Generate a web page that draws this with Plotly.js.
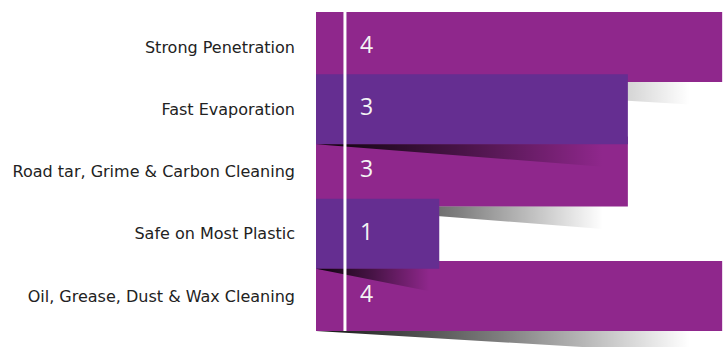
<!DOCTYPE html>
<html><head><meta charset="utf-8">
<script src="https://cdn.plot.ly/plotly-3.0.1.min.js"></script>
<style>html,body{margin:0;padding:0;background:#fff}#chart{width:725px;height:347px}</style>
</head><body><div id="chart"></div>
<script>
const categories = ['Strong Penetration','Fast Evaporation','Road tar, Grime & Carbon Cleaning','Safe on Most Plastic','Oil, Grease, Dust & Wax Cleaning'];
const values = [4, 3, 3, 1, 4];
const valueLabels = ['4', '3', '3', '1', '4'];

const BASE = -0.307, BAR_W = 1.125, SHADOW_H = 0.36, SHADOW_LEN = 0.92;
const XMAX = 4.03, YRANGE = [4.819, -0.755];
const C_MAG = '#8f278c', C_PUR = '#652e91';
const pos = categories.map((c, i) => i);

function barTrace(idx, color, xa, ya) {
  return {
    type: 'bar', orientation: 'h',
    y: idx.map(i => pos[i]), x: idx.map(i => values[i] - BASE), base: BASE,
    width: BAR_W, marker: {color: color, line: {width: 0}},
    xaxis: xa, yaxis: ya, hoverinfo: 'skip'
  };
}
function shadowTrace(i, xa, ya) {
  const yb = pos[i] + BAR_W / 2;
  const xe = BASE + SHADOW_LEN * (values[i] - BASE);
  return {
    type: 'scatter', mode: 'lines', fill: 'toself',
    x: [BASE, xe, xe, BASE], y: [yb, yb, yb + SHADOW_H, yb],
    line: {width: 0, color: 'rgba(0,0,0,0)'},
    fillgradient: {type: 'horizontal', start: BASE, stop: xe,
      colorscale: [[0, 'rgba(0,0,0,0.92)'], [0.5, 'rgba(0,0,0,0.5)'], [1, 'rgba(0,0,0,0)']]},
    xaxis: xa, yaxis: ya, hoverinfo: 'skip'
  };
}
const lower = pos.filter(i => i % 2 === 0);
const upper = pos.filter(i => i % 2 === 1);

const data = [
  barTrace(lower, C_MAG, 'x', 'y'),
  ...lower.map(i => shadowTrace(i, 'x', 'y')),
  barTrace(upper, C_PUR, 'x2', 'y2'),
  ...upper.map(i => shadowTrace(i, 'x2', 'y2')),
  {
    type: 'scatter', mode: 'text', x: pos.map(() => 0.23), y: pos, text: valueLabels,
    textposition: 'middle center',
    textfont: {family: 'Open Sans, sans-serif', size: 23, color: '#f4f4f4'},
    xaxis: 'x2', yaxis: 'y2', hoverinfo: 'skip'
  }
];

const layout = {
  width: 725, height: 347,
  margin: {l: 316, r: 0, t: 0, b: 0},
  paper_bgcolor: '#ffffff', plot_bgcolor: '#ffffff',
  showlegend: false, barmode: 'overlay',
  xaxis: {range: [BASE, XMAX], visible: false, fixedrange: true},
  yaxis: {range: YRANGE, tickmode: 'array', tickvals: pos, ticktext: categories,
    showgrid: false, zeroline: false, showline: false, ticks: '',
    ticklabelstandoff: 20,
    tickfont: {family: 'DejaVu Sans, sans-serif', size: 16, color: '#222222'}},
  xaxis2: {range: [BASE, XMAX], overlaying: 'x', anchor: 'y2', visible: false},
  yaxis2: {range: YRANGE, overlaying: 'y', anchor: 'x2', visible: false},
  shapes: [{type: 'line', layer: 'above', xref: 'x', yref: 'y', x0: 0, x1: 0,
    y0: pos[0] - BAR_W / 2, y1: pos[pos.length - 1] + BAR_W / 2,
    line: {color: '#ffffff', width: 3}}]
};

Plotly.newPlot('chart', data, layout, {displayModeBar: false, staticPlot: true});
</script>
</body></html>
